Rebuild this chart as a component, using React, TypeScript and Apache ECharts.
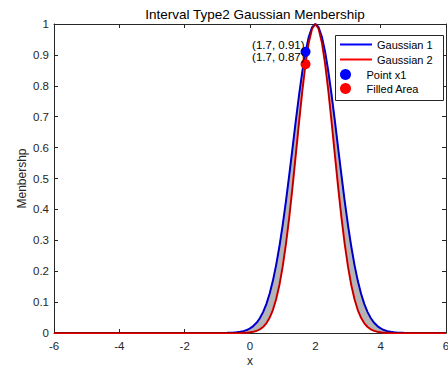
import React, { useEffect, useRef } from "react";
import * as echarts from "echarts";

const xs = [
  -6, -5, -4, -3, -2,
  -1, -0.9, -0.8, -0.7, -0.6, -0.5, -0.4, -0.3, -0.2, -0.1,
  0, 0.1, 0.2, 0.3, 0.4, 0.5, 0.6, 0.7, 0.8, 0.9,
  1, 1.1, 1.2, 1.3, 1.4, 1.5, 1.6, 1.7, 1.8, 1.9,
  2, 2.1, 2.2, 2.3, 2.4, 2.5, 2.6, 2.7, 2.8, 2.9,
  3, 3.1, 3.2, 3.3, 3.4, 3.5, 3.6, 3.7, 3.8, 3.9,
  4, 4.1, 4.2, 4.3, 4.4, 4.5, 4.6, 4.7, 4.8, 4.9,
  5, 6,
];

const gaussian1 = [
  0, 0, 0, 0, 0,
  0.0001, 0.0001, 0.0003, 0.0005, 0.0008, 0.0014, 0.0023, 0.0038, 0.0061, 0.0096,
  0.0148, 0.0224, 0.033, 0.0477, 0.0676, 0.0936, 0.127, 0.1688, 0.2197, 0.2798,
  0.349, 0.4263, 0.5098, 0.597, 0.6846, 0.7686, 0.845, 0.9096, 0.9588, 0.9895,
  1, 0.9895, 0.9588, 0.9096, 0.845, 0.7686, 0.6846, 0.597, 0.5098, 0.4263,
  0.349, 0.2798, 0.2197, 0.1688, 0.127, 0.0936, 0.0676, 0.0477, 0.033, 0.0224,
  0.0148, 0.0096, 0.0061, 0.0038, 0.0023, 0.0014, 0.0008, 0.0005, 0.0003, 0.0001,
  0.0001, 0,
];

const gaussian2 = [
  0, 0, 0, 0, 0,
  0, 0, 0, 0, 0, 0, 0.0001, 0.0003, 0.0006, 0.0011,
  0.0021, 0.0039, 0.0068, 0.0117, 0.0195, 0.0314, 0.049, 0.0743, 0.1091, 0.1554,
  0.2147, 0.2876, 0.3736, 0.4706, 0.5748, 0.6807, 0.7818, 0.8707, 0.9403, 0.9847,
  1, 0.9847, 0.9403, 0.8707, 0.7818, 0.6807, 0.5748, 0.4706, 0.3736, 0.2876,
  0.2147, 0.1554, 0.1091, 0.0743, 0.049, 0.0314, 0.0195, 0.0117, 0.0068, 0.0039,
  0.0021, 0.0011, 0.0006, 0.0003, 0.0001, 0, 0, 0, 0, 0,
  0, 0,
];

const pointX1 = [1.7, 0.91];
const pointFilled = [1.7, 0.87];

const xTicks = { min: -6, max: 6, interval: 2 };
const yTicks = { min: 0, max: 1, interval: 0.1 };

const FONT = "'Liberation Sans', Arial, Helvetica, sans-serif";
const AX = "#262626";

export default function App() {
  const ref = useRef<HTMLDivElement>(null);
  useEffect(() => {
    if (!ref.current) return;
    const chart = echarts.init(ref.current, null, { renderer: "svg" });
    const g1 = xs.map((x, i) => [x, gaussian1[i]]);
    const g2 = xs.map((x, i) => [x, gaussian2[i]]);

    const baseAxis = {
      axisLine: { show: true, onZero: false, lineStyle: { color: AX, width: 1 } },
      axisTick: { show: true, inside: true, length: 4, lineStyle: { color: AX } },
      splitLine: { show: false },
    };

    const legendText = { fontSize: 11, color: "#000", fontFamily: FONT, lineHeight: 15 };

    const pointLabel = {
      show: true,
      position: [4, -2],
      align: "right",
      verticalAlign: "middle",
      fontSize: 11.5,
      lineHeight: 11,
      color: "#000",
      fontFamily: FONT,
    };

    chart.setOption({
      animation: false,
      textStyle: { fontFamily: FONT },
      title: {
        text: "Interval Type2 Gaussian Menbership",
        left: 250,
        textAlign: "center",
        top: 2,
        textStyle: { fontSize: 13.5, fontWeight: "normal", color: "#000", fontFamily: FONT },
      },
      grid: { left: 54, top: 24, width: 392, height: 309, outerBoundsMode: "none", containLabel: false },
      graphic: [
        {
          type: "rect",
          left: 335,
          top: 35,
          shape: { width: 108, height: 65 },
          style: { fill: "#fff", stroke: AX, lineWidth: 1 },
          z: 10,
        },
      ],
      legend: [
        {
          left: 340,
          top: 37,
          orient: "vertical",
          padding: 0,
          itemWidth: 32,
          itemHeight: 2,
          itemGap: 0,
          icon: "rect",
          textStyle: legendText,
          data: [{ name: "Gaussian 1" }, { name: "Gaussian 2" }],
          z: 11,
        },
        {
          left: 340,
          top: 67,
          orient: "vertical",
          padding: 0,
          itemWidth: 32,
          itemHeight: 11,
          itemGap: -1,
          icon: "circle",
          textStyle: legendText,
          data: [{ name: "Point x1" }, { name: "Filled Area" }],
          z: 11,
        },
      ],
      xAxis: [
        {
          type: "value",
          ...xTicks,
          ...baseAxis,
          name: "x",
          nameLocation: "middle",
          nameGap: 22,
          nameMoveOverlap: false,
          nameTextStyle: { fontSize: 12, lineHeight: 12, color: AX, fontFamily: FONT },
          axisLabel: { fontSize: 11.5, color: AX, margin: 7, fontFamily: FONT },
        },
        {
          type: "value",
          position: "top",
          ...xTicks,
          ...baseAxis,
          axisLabel: { show: false },
        },
      ],
      yAxis: [
        {
          type: "value",
          ...yTicks,
          ...baseAxis,
          name: "Menbershp",
          nameLocation: "middle",
          nameGap: 26,
          nameMoveOverlap: false,
          nameTextStyle: { fontSize: 12, lineHeight: 12, color: AX, fontFamily: FONT },
          axisLabel: { fontSize: 11.5, color: AX, margin: 5, fontFamily: FONT },
        },
        {
          type: "value",
          position: "right",
          ...yTicks,
          ...baseAxis,
          axisLabel: { show: false },
        },
      ],
      series: [
        {
          name: "bandUpper",
          type: "line",
          data: g1,
          symbol: "none",
          silent: true,
          lineStyle: { opacity: 0 },
          areaStyle: { color: "#b4b4b4", opacity: 1 },
          z: 1,
        },
        {
          name: "bandLower",
          type: "line",
          data: g2,
          symbol: "none",
          silent: true,
          lineStyle: { opacity: 0 },
          areaStyle: { color: "#ffffff", opacity: 1 },
          z: 1.5,
        },
        {
          name: "Gaussian 1",
          type: "line",
          data: g1,
          symbol: "none",
          color: "#0000ff",
          lineStyle: { color: "#0000ff", width: 2 },
          z: 3,
        },
        {
          name: "Gaussian 2",
          type: "line",
          data: g2,
          symbol: "none",
          color: "#ff0000",
          lineStyle: { color: "#ff0000", width: 2 },
          z: 4,
        },
        {
          name: "edgeUpper",
          type: "line",
          data: g1,
          symbol: "none",
          silent: true,
          lineStyle: { color: "#000040", width: 0.7, opacity: 0.75 },
          z: 4.5,
        },
        {
          name: "edgeLower",
          type: "line",
          data: g2,
          symbol: "none",
          silent: true,
          lineStyle: { color: "#400000", width: 0.7, opacity: 0.75 },
          z: 4.6,
        },
        {
          name: "Point x1",
          type: "scatter",
          data: [pointX1],
          symbolSize: 10,
          itemStyle: { color: "#0000ff", opacity: 1 },
          z: 5,
          label: { ...pointLabel, formatter: "(1.7, 0.91)" },
        },
        {
          name: "Filled Area",
          type: "scatter",
          data: [pointFilled],
          symbolSize: 10,
          itemStyle: { color: "#ff0000", opacity: 1 },
          z: 5,
          label: { ...pointLabel, formatter: "(1.7, 0.87)" },
        },
      ],
    });
    return () => chart.dispose();
  }, []);
  return <div ref={ref} style={{ width: 448, height: 367, position: "absolute", left: 0, top: 0 }} />;
}
